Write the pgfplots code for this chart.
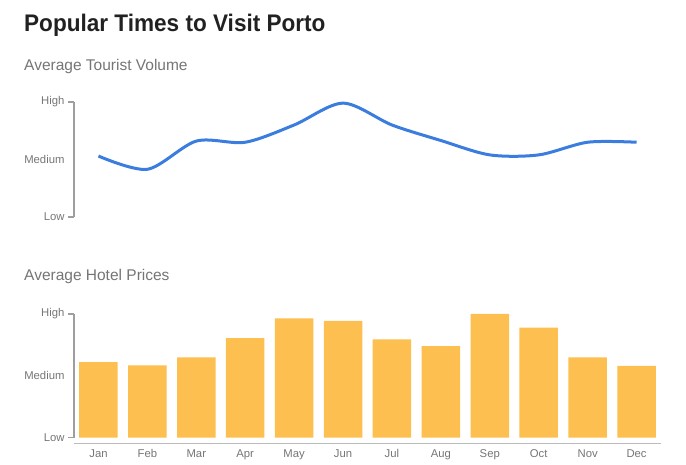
\documentclass[border=0pt]{standalone}
\usepackage{fontspec}
\setmainfont{Liberation Sans}
\newfontfamily\titlefont[FakeStretch=0.94]{Liberation Sans}
\usepackage{pgfplots}
\pgfplotsset{compat=1.18}
\definecolor{titlec}{HTML}{212121}
\definecolor{subc}{HTML}{757575}
\definecolor{tickc}{HTML}{757575}
\definecolor{axc}{HTML}{9E9E9E}
\definecolor{axx}{HTML}{BDBDBD}
\definecolor{linec}{HTML}{3A7DDE}
\definecolor{barc}{HTML}{FDBF4F}
\pgfplotsset{
  common/.style={
    scale only axis, width=587bp,
    xmin=-0.5, xmax=11.5, ymin=0, ymax=2,
    axis y line=left, axis line style={-, draw=axc, line width=2bp},
    ytick={0,2}, yticklabels={Low,High},
    extra y ticks={1}, extra y tick labels={Medium},
    extra y tick style={major tick length=0pt, yticklabel style={xshift=-6bp}},
    ytick align=outside, major tick length=6bp,
    y tick style={draw=axc, line width=1.5bp},
    tick label style={font=\fontsize{11.3bp}{13bp}\selectfont, text=tickc},
    /pgf/number format/assume math mode=true,
    clip=false,
  }
}
\begin{document}
\begin{tikzpicture}[x=1bp,y=1bp]
\useasboundingbox (0,0) rectangle (686,465);
\node[anchor=base west, inner sep=0, text=titlec] at (24,433.3) {\titlefont\bfseries\fontsize{24bp}{28bp}\selectfont Popular Times to Visit Porto};
\node[anchor=base west, inner sep=0, text=subc] at (24,394) {\fontsize{15.5bp}{18bp}\selectfont Average Tourist Volume};
\node[anchor=base west, inner sep=0, text=subc] at (24,184) {\fontsize{15.5bp}{18bp}\selectfont Average Hotel Prices};

\begin{axis}[common, at={(74bp,248bp)}, anchor=south west, height=115bp,
  axis x line=none, xtick=\empty]
\addplot[color=linec, line width=3bp, smooth, tension=0.5, mark=none] coordinates {
 (0,1.06) (1,0.83) (2,1.32) (3,1.30) (4,1.60) (5,1.98)
 (6,1.60) (7,1.33) (8,1.08) (9,1.08) (10,1.30) (11,1.30)};
\end{axis}

\begin{axis}[common, at={(74bp,27.3bp)}, anchor=south west, height=123.7bp,
  axis x line*=bottom, x axis line style={opacity=0},
  xtick={0,...,11}, xticklabels={Jan,Feb,Mar,Apr,May,Jun,Jul,Aug,Sep,Oct,Nov,Dec},
  x tick style={draw=none},
  xticklabel style={anchor=base, yshift=-14bp},
  ybar, bar width=38.5bp]
\addplot[fill=barc, draw=none, bar shift=0pt] coordinates {
 (0,1.22) (1,1.17) (2,1.30) (3,1.61) (4,1.93) (5,1.89)
 (6,1.59) (7,1.48) (8,2.00) (9,1.78) (10,1.30) (11,1.16)};
\draw[axx, line width=1.2bp] ([yshift=-5.6bp]rel axis cs:0,0) -- ([yshift=-5.6bp]rel axis cs:1,0);
\end{axis}
\end{tikzpicture}
\end{document}
